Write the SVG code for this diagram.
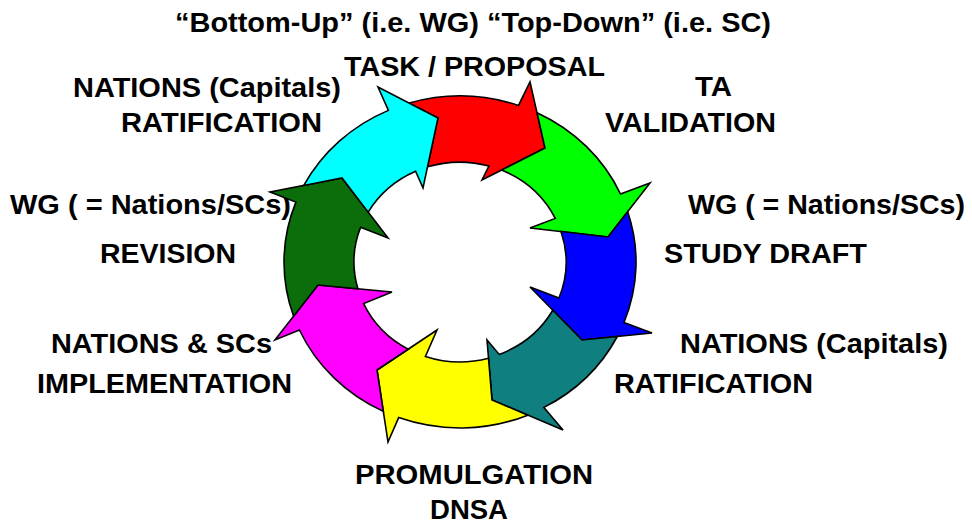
<svg xmlns="http://www.w3.org/2000/svg" width="972" height="525" viewBox="0 0 972 525">
<style>
text{font-family:"Liberation Sans",Arial,sans-serif;font-weight:bold;font-size:27.5px;fill:#000}
.a{stroke:#000;stroke-width:1.6;stroke-linejoin:miter;vector-effect:non-scaling-stroke}
</style>
<rect width="972" height="525" fill="#fff"/>
<g id="title"><text x="175" y="32" textLength="596" lengthAdjust="spacingAndGlyphs">“Bottom-Up” (i.e. WG) “Top-Down” (i.e. SC)</text></g>
<g id="label-task"><text x="344" y="76" textLength="261" lengthAdjust="spacingAndGlyphs">TASK / PROPOSAL</text></g>
<g id="label-ta"><text x="695" y="96" textLength="37" lengthAdjust="spacingAndGlyphs">TA</text><text x="605" y="132" textLength="171" lengthAdjust="spacingAndGlyphs">VALIDATION</text></g>
<g id="label-study"><text x="688" y="214" textLength="277" lengthAdjust="spacingAndGlyphs">WG ( = Nations/SCs)</text><text x="664" y="263" textLength="203" lengthAdjust="spacingAndGlyphs">STUDY DRAFT</text></g>
<g id="label-ratification-r"><text x="680" y="353" textLength="268" lengthAdjust="spacingAndGlyphs">NATIONS (Capitals)</text><text x="614" y="393" textLength="199" lengthAdjust="spacingAndGlyphs">RATIFICATION</text></g>
<g id="label-promulgation"><text x="355" y="484" textLength="238" lengthAdjust="spacingAndGlyphs">PROMULGATION</text><text x="430" y="519" textLength="78" lengthAdjust="spacingAndGlyphs">DNSA</text></g>
<g id="label-implementation"><text x="51" y="353" textLength="221" lengthAdjust="spacingAndGlyphs">NATIONS &amp; SCs</text><text x="37" y="393" textLength="255" lengthAdjust="spacingAndGlyphs">IMPLEMENTATION</text></g>
<g id="label-revision"><text x="10" y="214" textLength="281" lengthAdjust="spacingAndGlyphs">WG ( = Nations/SCs)</text><text x="100" y="263" textLength="136" lengthAdjust="spacingAndGlyphs">REVISION</text></g>
<g id="label-ratification-l"><text x="73" y="97" textLength="268" lengthAdjust="spacingAndGlyphs">NATIONS (Capitals)</text><text x="121" y="132" textLength="201" lengthAdjust="spacingAndGlyphs">RATIFICATION</text></g>
<g id="cycle" transform="translate(460,262) scale(1,0.943)">
<g id="arrow-red"><path class="a" fill="#FF0000" d="M-50.8,-168.5 A176,176 0 0 1 58.5,-166 L70,-190.9 L85,-120.9 L22,-87 L28.9,-101.7 A106,106 0 0 0 -32.5,-100.9 L-22,-152.7 Z"/></g>
<g id="arrow-green"><path class="a" fill="#00FF00" d="M77,-158.3 A176,176 0 0 1 160.5,-72.1 L190,-83.8 L148,-26.5 L70,-36.1 L95.3,-46.2 A106,106 0 0 0 41.6,-97.5 L85,-120.9 Z"/></g>
<g id="arrow-blue"><path class="a" fill="#0000FF" d="M167.7,-53.4 A176,176 0 0 1 164,64.1 L192,75.3 L122,82.7 L70,26.5 L99,38.1 A106,106 0 0 0 101,-32.3 L148,-26.5 Z"/></g>
<g id="arrow-teal"><path class="a" fill="#0F7F7F" d="M157.3,79 A176,176 0 0 1 83.9,154.2 L103,178.2 L32,146.3 L27,82.7 L39.2,98 A106,106 0 0 0 92.8,51.2 L122,82.7 Z"/></g>
<g id="arrow-yellow"><path class="a" fill="#FFFF00" d="M67.8,162.4 A176,176 0 0 1 -61.3,165 L-72,190.9 L-83,114.5 L-23,72.1 L-34.6,100.2 A106,106 0 0 0 28.5,102.1 L32,146.3 Z"/></g>
<g id="arrow-magenta"><path class="a" fill="#FF00FF" d="M-76.7,158.4 A176,176 0 0 1 -160.6,72.1 L-185,82.7 L-142,24.4 L-68,31.8 L-96.4,44.1 A106,106 0 0 0 -51.8,92.5 L-83,114.5 Z"/></g>
<g id="arrow-darkgreen"><path class="a" fill="#0B6E0B" d="M-166.4,57.4 A176,176 0 0 1 -164.1,-63.5 L-190,-74.2 L-118,-89.1 L-72,-25.5 L-99.4,-36.8 A106,106 0 0 0 -102.1,28.4 L-142,24.4 Z"/></g>
<g id="arrow-cyan"><path class="a" fill="#00FFFF" d="M-156.2,-81.2 A176,176 0 0 1 -71.6,-160.8 L-82,-185.6 L-22,-152.7 L-37,-78.5 L-44.4,-96.2 A106,106 0 0 0 -91.8,-52.9 L-118,-89.1 Z"/></g>
</g>
</svg>
